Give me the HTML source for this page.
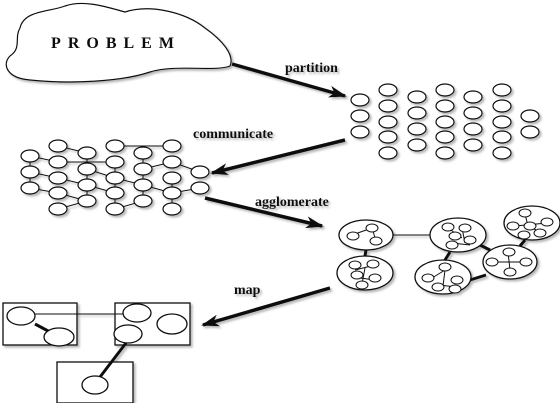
<!DOCTYPE html>
<html><head><meta charset="utf-8"><style>
html,body{margin:0;padding:0;background:#fff;}
svg{display:block;}
text{font-family:"Liberation Serif",serif;font-weight:bold;fill:#111;}
</style></head><body>
<svg width="560" height="403" viewBox="0 0 560 403" xmlns="http://www.w3.org/2000/svg">
<defs>
<filter id="sh" x="-5%" y="-5%" width="115%" height="115%">
<feDropShadow dx="2" dy="2" stdDeviation="1" flood-color="#888" flood-opacity="0.6"/>
</filter>
<marker id="ah" markerWidth="18" markerHeight="12" refX="16" refY="6" orient="auto" markerUnits="userSpaceOnUse">
<path d="M0,0 L18,6 L0,12 L5,6 Z" fill="#111"/>
</marker>
</defs>
<g filter="url(#sh)">
<path d="M20,28 C24,10 50,12 65,6 C85,-1 110,8 125,12 C150,4 185,12 205,28 C222,40 235,55 230,66 C215,72 175,64 150,72 C120,82 70,84 30,80 C6,78 2,64 10,56 C22,48 14,38 20,28 Z" fill="#fff" stroke="#111" stroke-width="1.2"/>
<text x="116" y="48" font-size="16" text-anchor="middle" letter-spacing="7">PROBLEM</text>

<g stroke="#111" stroke-width="3.5" fill="none">
<line x1="232" y1="64" x2="345" y2="96" marker-end="url(#ah)"/>
<line x1="345" y1="140" x2="212" y2="173" marker-end="url(#ah)"/>
<line x1="205" y1="198" x2="322" y2="226" marker-end="url(#ah)"/>
<line x1="330" y1="288" x2="203" y2="325" marker-end="url(#ah)"/>
</g>
<text x="285" y="72" font-size="14">partition</text>
<text x="193" y="138" font-size="14">communicate</text>
<text x="255" y="206" font-size="14">agglomerate</text>
<text x="234" y="294" font-size="14">map</text>

<g fill="#fff" stroke="#111" stroke-width="1.2">
<ellipse cx="360" cy="100" rx="9" ry="6"/><ellipse cx="360" cy="116" rx="9" ry="6"/><ellipse cx="360" cy="132" rx="9" ry="6"/>
<ellipse cx="388" cy="90" rx="9" ry="6"/><ellipse cx="388" cy="106" rx="9" ry="6"/><ellipse cx="388" cy="122" rx="9" ry="6"/><ellipse cx="388" cy="137" rx="9" ry="6"/><ellipse cx="388" cy="153" rx="9" ry="6"/>
<ellipse cx="417" cy="97" rx="9" ry="6"/><ellipse cx="417" cy="113" rx="9" ry="6"/><ellipse cx="417" cy="129" rx="9" ry="6"/><ellipse cx="417" cy="145" rx="9" ry="6"/>
<ellipse cx="445" cy="90" rx="9" ry="6"/><ellipse cx="445" cy="106" rx="9" ry="6"/><ellipse cx="445" cy="122" rx="9" ry="6"/><ellipse cx="445" cy="137" rx="9" ry="6"/><ellipse cx="445" cy="153" rx="9" ry="6"/>
<ellipse cx="473" cy="97" rx="9" ry="6"/><ellipse cx="473" cy="113" rx="9" ry="6"/><ellipse cx="473" cy="129" rx="9" ry="6"/><ellipse cx="473" cy="145" rx="9" ry="6"/>
<ellipse cx="502" cy="90" rx="9" ry="6"/><ellipse cx="502" cy="106" rx="9" ry="6"/><ellipse cx="502" cy="122" rx="9" ry="6"/><ellipse cx="502" cy="137" rx="9" ry="6"/><ellipse cx="502" cy="153" rx="9" ry="6"/>
<ellipse cx="530" cy="116" rx="9" ry="6"/><ellipse cx="530" cy="132" rx="9" ry="6"/>
</g>

<g transform="translate(-330,56)">
<g stroke="#111" stroke-width="1">
<line x1="360" y1="100" x2="388" y2="106"/><line x1="360" y1="116" x2="388" y2="122"/><line x1="360" y1="132" x2="388" y2="137"/>
<line x1="388" y1="90" x2="417" y2="97"/><line x1="388" y1="106" x2="445" y2="106"/><line x1="388" y1="122" x2="417" y2="129"/><line x1="388" y1="137" x2="417" y2="145"/><line x1="388" y1="153" x2="417" y2="145"/>
<line x1="417" y1="97" x2="417" y2="145"/><line x1="417" y1="113" x2="445" y2="122"/><line x1="417" y1="129" x2="445" y2="137"/>
<line x1="445" y1="90" x2="502" y2="90"/><line x1="445" y1="106" x2="445" y2="153"/><line x1="445" y1="122" x2="473" y2="129"/><line x1="445" y1="153" x2="473" y2="145"/>
<line x1="473" y1="97" x2="473" y2="145"/><line x1="473" y1="113" x2="502" y2="106"/><line x1="473" y1="129" x2="502" y2="137"/>
<line x1="502" y1="106" x2="530" y2="116"/><line x1="502" y1="122" x2="502" y2="153"/><line x1="502" y1="137" x2="530" y2="132"/><line x1="360" y1="100" x2="360" y2="132"/>
</g>
<g fill="#fff" stroke="#111" stroke-width="1.2">
<ellipse cx="360" cy="100" rx="9" ry="6"/><ellipse cx="360" cy="116" rx="9" ry="6"/><ellipse cx="360" cy="132" rx="9" ry="6"/>
<ellipse cx="388" cy="90" rx="9" ry="6"/><ellipse cx="388" cy="106" rx="9" ry="6"/><ellipse cx="388" cy="122" rx="9" ry="6"/><ellipse cx="388" cy="137" rx="9" ry="6"/><ellipse cx="388" cy="153" rx="9" ry="6"/>
<ellipse cx="417" cy="97" rx="9" ry="6"/><ellipse cx="417" cy="113" rx="9" ry="6"/><ellipse cx="417" cy="129" rx="9" ry="6"/><ellipse cx="417" cy="145" rx="9" ry="6"/>
<ellipse cx="445" cy="90" rx="9" ry="6"/><ellipse cx="445" cy="106" rx="9" ry="6"/><ellipse cx="445" cy="122" rx="9" ry="6"/><ellipse cx="445" cy="137" rx="9" ry="6"/><ellipse cx="445" cy="153" rx="9" ry="6"/>
<ellipse cx="473" cy="97" rx="9" ry="6"/><ellipse cx="473" cy="113" rx="9" ry="6"/><ellipse cx="473" cy="129" rx="9" ry="6"/><ellipse cx="473" cy="145" rx="9" ry="6"/>
<ellipse cx="502" cy="90" rx="9" ry="6"/><ellipse cx="502" cy="106" rx="9" ry="6"/><ellipse cx="502" cy="122" rx="9" ry="6"/><ellipse cx="502" cy="137" rx="9" ry="6"/><ellipse cx="502" cy="153" rx="9" ry="6"/>
<ellipse cx="530" cy="116" rx="9" ry="6"/><ellipse cx="530" cy="132" rx="9" ry="6"/>
</g>
</g>

<g stroke="#111">
<line x1="393" y1="235" x2="430" y2="235" stroke-width="1"/>
<line x1="366" y1="250" x2="365" y2="256" stroke-width="3"/>
<line x1="450" y1="252" x2="445" y2="260" stroke-width="3"/>
<line x1="480" y1="245" x2="490" y2="250" stroke-width="3"/>
<line x1="525" y1="240" x2="520" y2="246" stroke-width="3"/>
<line x1="470" y1="280" x2="486" y2="275" stroke-width="3"/>
</g>
<g fill="#fff" stroke="#111" stroke-width="1.3">
<ellipse cx="366" cy="235" rx="27" ry="15"/>
<ellipse cx="365" cy="273" rx="28" ry="17"/>
<ellipse cx="458" cy="235" rx="28" ry="17"/>
<ellipse cx="532" cy="223" rx="28" ry="17"/>
<ellipse cx="510" cy="262" rx="27" ry="17"/>
<ellipse cx="443" cy="277" rx="28" ry="17"/>
</g>
<g stroke="#111" stroke-width="1">
<line x1="352" y1="235" x2="372" y2="228"/><line x1="372" y1="228" x2="376" y2="241"/>
<line x1="355" y1="270" x2="375" y2="265"/><line x1="360" y1="278" x2="375" y2="280"/><line x1="365" y1="268" x2="362" y2="284"/>
<line x1="448" y1="228" x2="462" y2="238"/><line x1="462" y1="228" x2="465" y2="243"/><line x1="452" y1="243" x2="470" y2="245"/>
<line x1="525" y1="214" x2="528" y2="226"/><line x1="515" y1="226" x2="547" y2="223"/><line x1="528" y1="226" x2="540" y2="232"/>
<line x1="508" y1="252" x2="510" y2="270"/><line x1="495" y1="262" x2="525" y2="262"/>
<line x1="432" y1="278" x2="450" y2="267"/><line x1="440" y1="285" x2="455" y2="287"/><line x1="445" y1="270" x2="443" y2="286"/>
</g>
<g fill="#fff" stroke="#111" stroke-width="1">
<ellipse cx="372" cy="228" rx="6" ry="4"/><ellipse cx="353" cy="236" rx="6" ry="4"/><ellipse cx="376" cy="241" rx="6" ry="4"/>
<ellipse cx="355" cy="265" rx="6" ry="4"/><ellipse cx="373" cy="264" rx="6" ry="4"/><ellipse cx="357" cy="275" rx="6" ry="4"/><ellipse cx="375" cy="278" rx="6" ry="4"/><ellipse cx="362" cy="285" rx="6" ry="4"/>
<ellipse cx="448" cy="227" rx="6" ry="4"/><ellipse cx="465" cy="228" rx="6" ry="4"/><ellipse cx="455" cy="236" rx="6" ry="4"/><ellipse cx="470" cy="240" rx="6" ry="4"/><ellipse cx="452" cy="245" rx="6" ry="4"/>
<ellipse cx="525" cy="213" rx="6" ry="4"/><ellipse cx="513" cy="226" rx="6" ry="4"/><ellipse cx="530" cy="226" rx="6" ry="4"/><ellipse cx="547" cy="222" rx="6" ry="4"/><ellipse cx="540" cy="233" rx="6" ry="4"/><ellipse cx="524" cy="235" rx="6" ry="4"/>
<ellipse cx="509" cy="252" rx="6" ry="4"/><ellipse cx="492" cy="262" rx="6" ry="4"/><ellipse cx="526" cy="262" rx="6" ry="4"/><ellipse cx="510" cy="272" rx="6" ry="4"/>
<ellipse cx="445" cy="267" rx="6" ry="4"/><ellipse cx="428" cy="278" rx="6" ry="4"/><ellipse cx="457" cy="280" rx="6" ry="4"/><ellipse cx="438" cy="287" rx="6" ry="4"/><ellipse cx="455" cy="289" rx="6" ry="4"/>
</g>

<g fill="#fff" stroke="#111" stroke-width="1.3">
<rect x="3" y="303" width="74" height="42"/>
<rect x="115" y="303" width="75" height="42"/>
<rect x="57" y="362" width="76" height="41"/>
</g>
<g stroke="#111">
<line x1="34" y1="314" x2="124" y2="314" stroke-width="1"/>
<line x1="35" y1="324" x2="50" y2="332" stroke-width="3"/>
<line x1="126" y1="343" x2="100" y2="377" stroke-width="3"/>
</g>
<g fill="#fff" stroke="#111" stroke-width="1.3">
<ellipse cx="21" cy="316" rx="14" ry="9"/>
<ellipse cx="59" cy="337" rx="15" ry="9"/>
<ellipse cx="172" cy="324" rx="15" ry="10"/>
<ellipse cx="137" cy="313" rx="14" ry="9"/>
<ellipse cx="128" cy="334" rx="14" ry="9"/>
<ellipse cx="95" cy="385" rx="13" ry="9"/>
</g>
</g>
</svg>
</body></html>
